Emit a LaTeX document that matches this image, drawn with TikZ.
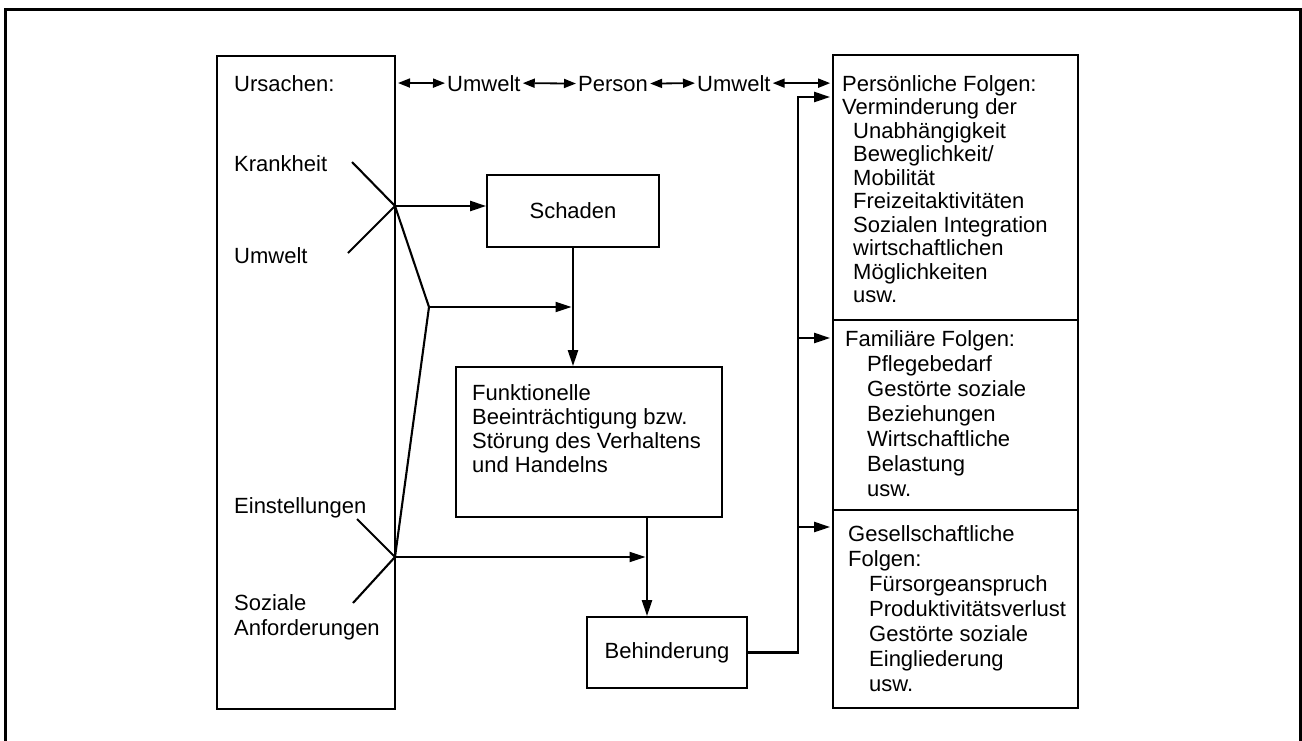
\documentclass[tikz,border=0pt]{standalone}
\usepackage{fontspec}
\setmainfont{Liberation Sans}
\usetikzlibrary{arrows.meta,calc}
\begin{document}
\begin{tikzpicture}[x=1pt,y=-1pt,
  frame/.style={line width=3pt},
  box/.style={draw, line width=1.7pt, rectangle, inner sep=0pt},
  txt/.style={inner sep=0pt, font=\fontsize{22}{24}\selectfont},
  block/.style={inner sep=0pt, align=left, anchor=north west},
  conn/.style={line width=2.1pt},
  arr/.style={conn, -{Triangle[length=16pt,width=10pt]}},
  dbl/.style={line width=1.8pt, {Triangle[length=12pt,width=9pt]}-{Triangle[length=12pt,width=9pt]}}]
\useasboundingbox (0,0) rectangle (1302,740);

% outer frame (open at the bottom)
\draw[frame] (5,760) -- (5,9) -- (1300,9) -- (1300,760);

% boxes
\node[box, minimum width=178pt, minimum height=653pt] (ursachen) at (306,382.5) {};
\node[box, minimum width=172pt, minimum height=72pt, txt] (schaden) at (573,211) {Schaden};
\node[box, minimum width=266pt, minimum height=150pt] (funkt) at (589,442) {};
\node[box, minimum width=160pt, minimum height=71pt, txt] (behind) at (667,652.5) {Behinderung};
\node[box, minimum width=245pt, minimum height=265pt] (folg1) at (955.5,187.5) {};
\node[box, minimum width=245pt, minimum height=190pt] (folg2) at (955.5,415) {};
\node[box, minimum width=245pt, minimum height=198pt] (folg3) at (955.5,609) {};

% labels inside the cause column
\node[txt, anchor=base west] (ursl) at (234,91) {Ursachen:};
\node[txt, anchor=base west] (krank) at (234,171) {Krankheit};
\node[txt, anchor=base west] (umw) at (234,263) {Umwelt};
\node[txt, anchor=base west] (einst) at (234,513) {Einstellungen};
\node[txt, block, font=\fontsize{22}{25}\selectfont] (sozial) at (234,594) {Soziale\\Anforderungen};

% interaction row
\node[txt, anchor=base west] (u1) at (447,91) {Umwelt};
\node[txt, anchor=base west] (pers) at (578,91) {Person};
\node[txt, anchor=base west] (u2) at (697,91) {Umwelt};
\coordinate (rowstart) at (398,83);
\draw[dbl] (rowstart) -- ([xshift=-2pt]u1.west);
\draw[dbl] ([xshift=2pt]u1.east) -- ([xshift=-2pt]pers.west);
\draw[dbl] ([xshift=2pt]pers.east) -- ([xshift=-2pt]u2.west);
\draw[dbl] ([xshift=2pt]u2.east) -- ([xshift=-2pt]u2.east -| folg1.west);

% central text
\node[txt, block, font=\fontsize{22}{24}\selectfont] (funktxt) at (472,384)
  {Funktionelle\\Beeinträchtigung bzw.\\Störung des Verhaltens\\und Handelns};

% consequence texts
\node[txt, block, font=\fontsize{22}{23.5}\selectfont] (f1txt) at (842,75)
  {Persönliche Folgen:\\Verminderung der\\
   \hspace*{11pt}Unabhängigkeit\\\hspace*{11pt}Beweglichkeit/\\\hspace*{11pt}Mobilität\\
   \hspace*{11pt}Freizeitaktivitäten\\\hspace*{11pt}Sozialen Integration\\
   \hspace*{11pt}wirtschaftlichen\\\hspace*{11pt}Möglichkeiten\\\hspace*{11pt}usw.};
\node[txt, block, font=\fontsize{22}{25}\selectfont] (f2txt) at (845,330)
  {Familiäre Folgen:\\\hspace*{22pt}Pflegebedarf\\\hspace*{22pt}Gestörte soziale\\
   \hspace*{22pt}Beziehungen\\\hspace*{22pt}Wirtschaftliche\\\hspace*{22pt}Belastung\\
   \hspace*{22pt}usw.};
\node[txt, block, font=\fontsize{22}{25}\selectfont] (f3txt) at (848,525)
  {Gesellschaftliche\\Folgen:\\\hspace*{21pt}Fürsorgeanspruch\\
   \hspace*{21pt}Produktivitätsverlust\\\hspace*{21pt}Gestörte soziale\\
   \hspace*{21pt}Eingliederung\\\hspace*{21pt}usw.};

% junctions on the edge of the cause column
\coordinate (j1) at (395,206);
\coordinate (bend) at (429,307);
\coordinate (j2) at (395,557);
\coordinate (kend) at (352,162);
\coordinate (uend) at (348,253);
\coordinate (eend) at (357,519);
\coordinate (send) at (353,603);

\draw[conn] (kend) -- (j1) -- (uend);
\draw[conn] (eend) -- (j2) -- (send);
\draw[conn, line join=round] (j1) -- (bend) -- (j2);
\draw[arr] (j1) -- (j1 -| schaden.west);

% damage -> functional impairment
\coordinate (v1) at (schaden.south);
\draw[arr] (v1) -- (v1 |- funkt.north);
\draw[arr] (bend) -- ([xshift=-1.5pt]bend -| v1);

% functional impairment -> disability
\coordinate (v2) at (647,0);
\draw[arr] (v2 |- funkt.south) -- (v2 |- behind.north);
\draw[arr] (j2) -- ([xshift=-1.5pt]j2 -| v2);

% disability -> consequences
\coordinate (bus) at (798,97);
\draw[arr] (behind.east) -| (bus) -- ([xshift=-2pt]bus -| folg1.west);
\draw[arr] (bus |- 0,338) -- ([xshift=-2pt]folg2.west |- 0,338);
\draw[arr] (bus |- 0,527) -- ([xshift=-2pt]folg3.west |- 0,527);
\end{tikzpicture}
\end{document}
